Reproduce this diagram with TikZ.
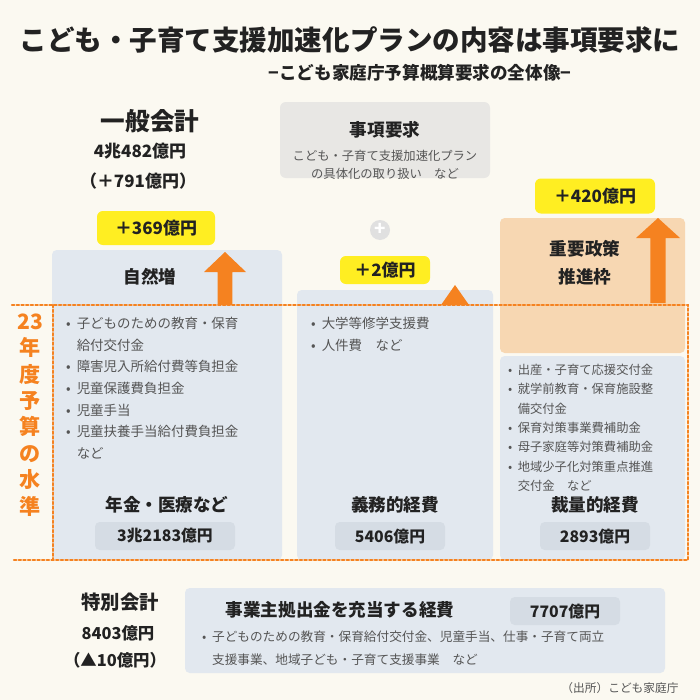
\documentclass[tikz,border=0pt]{standalone}
\usepackage{fontspec}
\setmainfont{Noto Sans CJK JP}[BoldFont={Noto Sans CJK JP Bold}]
\newfontfamily\jb{Noto Sans CJK JP Black}
\usetikzlibrary{arrows.meta}
\definecolor{bg}{HTML}{FBF9F1}
\definecolor{bl}{HTML}{E2E8EF}
\definecolor{gr}{HTML}{E8E7E4}
\definecolor{og}{HTML}{F7D7B2}
\definecolor{ye}{HTML}{FFEE22}
\definecolor{or}{HTML}{F58220}
\definecolor{bd}{HTML}{D5DCE4}
\definecolor{tx}{HTML}{222222}
\definecolor{lt}{HTML}{555555}
\tikzset{
 box/.style={fill=bl,rounded corners=4pt},
 yl/.style={fill=ye,rounded corners=5pt,font=\jb\fontsize{14.5}{15}\selectfont,text=tx},
 badge/.style={fill=bd,rounded corners=4pt,font=\jb\fontsize{13.5}{14}\selectfont,text=tx},
 hd/.style={font=\jb\fontsize{15}{16}\selectfont,text=tx},
 lst/.style={anchor=north west,align=left,font=\fontsize{11.5}{18.5}\selectfont,text=lt},
}
\newcommand{\upar}[4]{% x, tip y, base y, half width
 \fill[or] (#1-#4,#2+20) -- (#1,#2) -- (#1+#4,#2+20) -- (#1+0.35*#4,#2+20) -- (#1+0.35*#4,#3) -- (#1-0.35*#4,#3) -- (#1-0.35*#4,#2+20) -- cycle;}
\begin{document}
\begin{tikzpicture}[x=0.03cm,y=-0.03cm]
\fill[bg] (0,0) rectangle (700,700);
\useasboundingbox (0,0) rectangle (700,700);
\node[font=\jb\fontsize{23.5}{25}\selectfont,text=tx] (t1) at (350,40) {こども・子育て支援加速化プランの内容は事項要求に};
\node[font=\jb\fontsize{15}{17}\selectfont,text=tx] (t2) at (420,73) {−こども家庭庁予算概算要求の全体像−};
% general account
\node[font=\jb\fontsize{21}{22}\selectfont,text=tx] (ga) at (150,121) {一般会計};
\node[font=\jb\fontsize{14.5}{15}\selectfont,text=tx] (ga2) at (140,151) {4兆482億円};
\node[font=\jb\fontsize{14.5}{15}\selectfont,text=tx] (ga3) at (138,181) {（＋791億円）};
% gray box
\fill[gr,rounded corners=5pt] (280,102) rectangle (490,178);
\node[hd] (jk) at (385,130) {事項要求};
\node[font=\fontsize{10.5}{15}\selectfont,text=lt,align=center] (jk2) at (385,165) {こども・子育て支援加速化プラン\\の具体化の取り扱い　など};
\fill[black!12] (380,230) circle (10);
\node[text=white,font=\jb\fontsize{16}{16}\selectfont] (pl) at (380,229) {+};
% left box
\fill[box] (52,250) rectangle (282,560);
\node[yl,minimum width=118*0.03cm,minimum height=34*0.03cm] (y1) at (156,228) {＋369億円};
\node[hd] (sz) at (150,277) {自然増};
\upar{225}{252}{305}{21}
% middle
\fill[box] (297,290) rectangle (493,560);
\node[yl,minimum width=90*0.03cm,minimum height=28*0.03cm] (y2) at (385,270) {＋2億円};
\upar{455}{285}{305}{14}
% right
\node[yl,minimum width=120*0.03cm,minimum height=35*0.03cm] (y3) at (595,196) {＋420億円};
\fill[og,rounded corners=4pt] (500,218) rectangle (685,353);
\fill[box] (500,356) rectangle (685,560);
\node[hd,align=center,font=\jb\fontsize{15}{24}\selectfont] (jy) at (585,263) {重要政策\\推進枠};
\upar{658}{218}{303}{22}
% dotted frame
\draw[or,line width=2pt,dotted,line cap=round] (12,305) -- (688,305) -- (688,560) -- (12,560);
\draw[or,line width=2pt,dotted,line cap=round] (53,305) -- (53,560);
\node[text=or,font=\jb\fontsize{18}{22.5}\selectfont,align=center] (v) at (30,415) {23\\年\\度\\予\\算\\の\\水\\準};
% lists
\node[lst] (l1) at (62,313) {•\ \ 子どものための教育・保育\\\phantom{•\ \ }給付交付金\\•\ \ 障害児入所給付費等負担金\\•\ \ 児童保護費負担金\\•\ \ 児童手当\\•\ \ 児童扶養手当給付費負担金\\\phantom{•\ \ }など};
\node[lst] (l2) at (307,313) {•\ \ 大学等修学支援費\\•\ \ 人件費　など};
\node[lst,font=\fontsize{10.5}{16.5}\selectfont] (l3) at (504,360) {•\ \ 出産・子育て応援交付金\\•\ \ 就学前教育・保育施設整\\\phantom{•\ \ }備交付金\\•\ \ 保育対策事業費補助金\\•\ \ 母子家庭等対策費補助金\\•\ \ 地域少子化対策重点推進\\\phantom{•\ \ }交付金　など};
\node[hd] (h1) at (167,505) {年金・医療など};
\node[badge,minimum width=140*0.03cm,minimum height=28*0.03cm] (b1) at (165,536) {3兆2183億円};
\node[hd] (h2) at (395,505) {義務的経費};
\node[badge,minimum width=110*0.03cm,minimum height=28*0.03cm] (b2) at (390,536) {5406億円};
\node[hd] (h3) at (595,505) {裁量的経費};
\node[badge,minimum width=110*0.03cm,minimum height=28*0.03cm] (b3) at (595,536) {2893億円};
% special
\node[font=\jb\fontsize{16.5}{17}\selectfont,text=tx] (sp) at (120,602) {特別会計};
\node[font=\jb\fontsize{14}{15}\selectfont,text=tx] (sp2) at (118,633) {8403億円};
\node[font=\jb\fontsize{14}{15}\selectfont,text=tx] (sp3) at (115,660) {（▲10億円）};
\fill[box] (185,588) rectangle (665,673);
\node[hd] (jg) at (340,610) {事業主拠出金を充当する経費};
\node[badge,minimum width=110*0.03cm,minimum height=28*0.03cm] (b4) at (565,611) {7707億円};
\node[lst,font=\fontsize{10.8}{19}\selectfont] (l4) at (198,627) {•\ \ 子どものための教育・保育給付交付金、児童手当、仕事・子育て両立\\\phantom{•\ \ }支援事業、地域子ども・子育て支援事業　など};
\node[font=\fontsize{10}{11}\selectfont,text=lt] (src) at (620,688) {（出所）こども家庭庁};
\end{tikzpicture}
\end{document}
